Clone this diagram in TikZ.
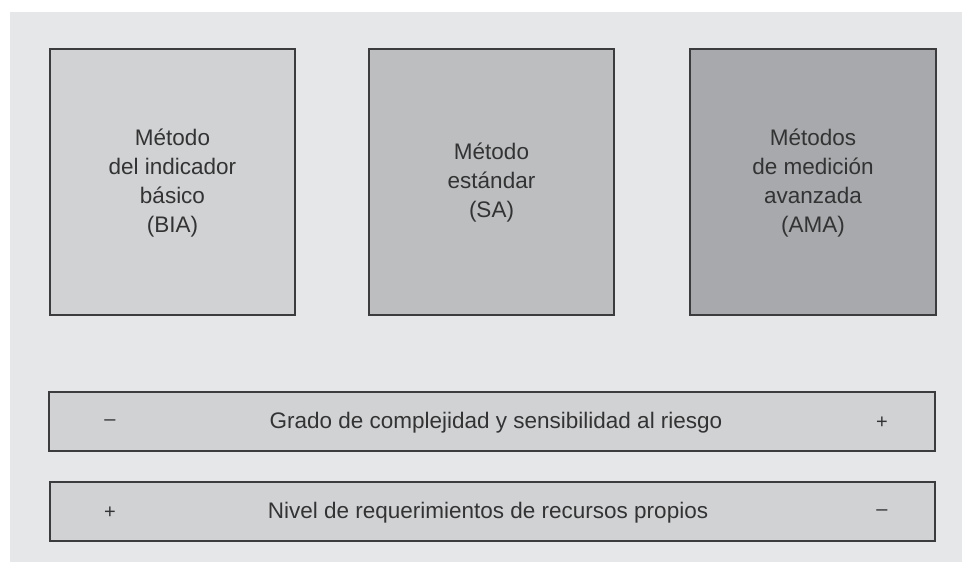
\documentclass[tikz,border=0pt]{standalone}
\usepackage{fontspec}
\setmainfont{Liberation Sans}
\definecolor{bg}{HTML}{E6E7E8}
\definecolor{lightbox}{HTML}{D1D2D4}
\definecolor{midbox}{HTML}{BCBEC0}
\definecolor{darkbox}{HTML}{A7A9AC}
\definecolor{edge}{HTML}{3C3C3E}
\definecolor{txt}{HTML}{333333}
\begin{document}
\begin{tikzpicture}[x=1pt,y=-1pt,
  boxstyle/.style={draw=edge,line width=1.6pt},
  labelstyle/.style={text=txt,align=center,font=\fontsize{22.5}{29}\selectfont,inner sep=0pt},
  signstyle/.style={text=txt,font=\fontsize{20}{22}\selectfont,inner sep=0pt}]
\useasboundingbox (0,0) rectangle (962,562);
\fill[bg] (10,12) rectangle (962,562);
% three method boxes
\filldraw[boxstyle,fill=lightbox] (50,49) rectangle (295,315);
\filldraw[boxstyle,fill=midbox] (369,49) rectangle (614,315);
\filldraw[boxstyle,fill=darkbox] (690,49) rectangle (936,315);
\node[labelstyle] (bia) at (172.5,183) {Método\\del indicador\\básico\\(BIA)};
\node[labelstyle] (sa) at (491.5,183) {Método\\estándar\\(SA)};
\node[labelstyle] (ama) at (813,183) {Métodos\\de medición\\avanzada\\(AMA)};
% bars
\filldraw[boxstyle,fill=lightbox] (49,392) rectangle (935,451);
\filldraw[boxstyle,fill=lightbox] (50,482) rectangle (935,541);
\node[labelstyle] (grado) at (496,423) {Grado de complejidad y sensibilidad al riesgo};
\node[signstyle] (g1) at (110,423) {–};
\node[signstyle] (g2) at (882,423) {+};
\node[labelstyle] (nivel) at (488,513) {Nivel de requerimientos de recursos propios};
\node[signstyle] (n1) at (110,513) {+};
\node[signstyle] (n2) at (882,513) {–};
\end{tikzpicture}
\end{document}
